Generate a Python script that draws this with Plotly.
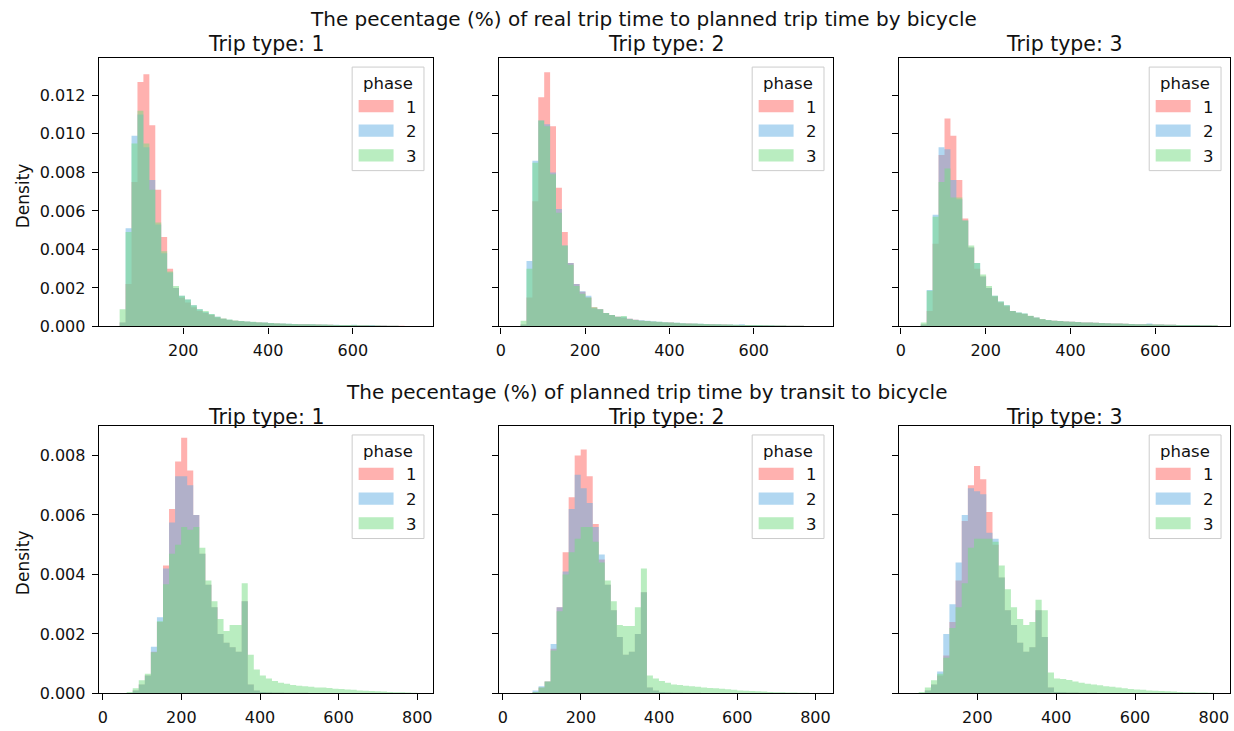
import numpy as np
import plotly.graph_objects as go

W, H = 1234, 731

phases = ["1", "2", "3"]
trip_types = ["1", "2", "3"]
row_titles = [
    "The pecentage (%) of real trip time to planned trip time by bicycle",
    "The pecentage (%) of planned trip time by transit to bicycle",
]

# ---------------- bin edges (50 bins per panel) ----------------
top_edges_1 = np.linspace(50, 750, 51)
top_edges_2 = np.linspace(47, 747, 51)
top_edges_3 = np.linspace(47, 747, 51)
bot_edges_1 = np.linspace(30, 800, 51)
bot_edges_2 = np.linspace(30, 800, 51)
bot_edges_3 = np.linspace(20, 800, 51)

# ---------------- densities: top row (real / planned by bicycle) ----------------
t1_p1 = [0.0002, 0.0022, 0.0075, 0.0127, 0.0131, 0.01045, 0.0071, 0.00465, 0.0030, 0.0020,
         0.0015, 0.00125, 0.0010, 0.0008, 0.0007, 0.0006, 0.00047, 0.0004, 0.00033, 0.0003,
         0.00027, 0.00025, 0.00022, 0.0002, 0.00019, 0.00017, 0.00015, 0.00014, 0.00013, 0.00012,
         0.00012, 0.00011, 0.0001, 0.0001, 0.00009, 0.00009, 0.00008, 0.00008, 0.00007, 0.00007,
         0.00006, 0.00006, 0.00005, 0.00005, 0.00005, 0.00004, 0.00004, 0.00004, 0.00003, 0.00003]
t1_p2 = [0.0002, 0.0051, 0.0099, 0.0110, 0.0093, 0.0076, 0.0053, 0.0038, 0.0028, 0.0020,
         0.0016, 0.0014, 0.0011, 0.0009, 0.00075, 0.00063, 0.0005, 0.0004, 0.00035, 0.0003,
         0.00028, 0.00026, 0.00023, 0.00021, 0.0002, 0.00018, 0.00016, 0.00015, 0.00014, 0.00013,
         0.00012, 0.00011, 0.00011, 0.0001, 0.0001, 0.00009, 0.00009, 0.00008, 0.00007, 0.00009,
         0.00006, 0.00006, 0.00007, 0.00005, 0.00005, 0.00004, 0.00004, 0.00003, 0.00003, 0.00003]
t1_p3 = [0.0009, 0.0049, 0.0095, 0.0112, 0.0095, 0.0071, 0.0054, 0.0039, 0.00285, 0.0021,
         0.0016, 0.0014, 0.0011, 0.0009, 0.0008, 0.00065, 0.0005, 0.00042, 0.00036, 0.00031,
         0.00029, 0.00026, 0.00024, 0.00022, 0.0002, 0.00018, 0.00017, 0.00015, 0.00014, 0.00013,
         0.00012, 0.00012, 0.00011, 0.0001, 0.0001, 0.00009, 0.00008, 0.00008, 0.00007, 0.00007,
         0.00006, 0.00006, 0.00005, 0.00005, 0.00004, 0.00004, 0.00004, 0.00003, 0.00003, 0.00003]

t2_p1 = [0.0001, 0.0015, 0.0065, 0.0119, 0.0132, 0.0104, 0.0072, 0.0049, 0.0033, 0.0022,
         0.0018, 0.0015, 0.0010, 0.0009, 0.0007, 0.0006, 0.0005, 0.00045, 0.0004, 0.00035,
         0.0003, 0.00028, 0.00025, 0.00023, 0.00021, 0.0002, 0.00018, 0.00016, 0.00015, 0.00014,
         0.00013, 0.00012, 0.00011, 0.0001, 0.0001, 0.00009, 0.00008, 0.00008, 0.00007, 0.00007,
         0.00006, 0.00006, 0.00005, 0.00005, 0.00005, 0.00004, 0.00004, 0.00004, 0.00003, 0.00003]
t2_p2 = [0.0001, 0.0034, 0.0086, 0.0107, 0.0105, 0.0080, 0.0061, 0.0042, 0.0033, 0.0022,
         0.00183, 0.0016, 0.00094, 0.0009, 0.0007, 0.0006, 0.0005, 0.0005, 0.0004, 0.00035,
         0.00032, 0.0003, 0.00027, 0.00025, 0.00022, 0.0002, 0.00019, 0.00017, 0.00016, 0.00015,
         0.00014, 0.00013, 0.00012, 0.00011, 0.0001, 0.0001, 0.00009, 0.00012, 0.00008, 0.00007,
         0.00007, 0.00006, 0.00006, 0.00005, 0.00005, 0.00004, 0.00004, 0.00004, 0.00003, 0.00003]
t2_p3 = [0.0003, 0.0030, 0.0085, 0.0107, 0.0104, 0.0079, 0.0059, 0.0042, 0.0032, 0.0021,
         0.0017, 0.0015, 0.0010, 0.0009, 0.0007, 0.0006, 0.0005, 0.00055, 0.00038, 0.00033,
         0.0003, 0.00028, 0.00026, 0.00024, 0.00022, 0.0002, 0.00019, 0.00017, 0.00016, 0.00015,
         0.00014, 0.00013, 0.00012, 0.00011, 0.0001, 0.0001, 0.00009, 0.00008, 0.00008, 0.00007,
         0.00007, 0.00006, 0.00006, 0.00005, 0.00005, 0.00004, 0.00004, 0.00004, 0.00003, 0.00003]

t3_p1 = [0.0001, 0.0008, 0.0043, 0.0089, 0.0108, 0.0099, 0.0076, 0.0056, 0.0041, 0.0030,
         0.0026, 0.0020, 0.00155, 0.00125, 0.00105, 0.0008, 0.0007, 0.00065, 0.00055, 0.00045,
         0.00038, 0.00032, 0.0003, 0.00028, 0.00026, 0.00025, 0.00023, 0.00021, 0.0002, 0.00019,
         0.00018, 0.00017, 0.00016, 0.00015, 0.00014, 0.00013, 0.00012, 0.00012, 0.00011, 0.0001,
         0.0001, 0.00009, 0.00009, 0.00008, 0.00008, 0.00007, 0.00007, 0.00006, 0.00006, 0.00005]
t3_p2 = [0.0001, 0.0019, 0.0058, 0.0093, 0.0092, 0.0076, 0.0066, 0.0055, 0.0041, 0.0033,
         0.0026, 0.0020, 0.0016, 0.0013, 0.0011, 0.0008, 0.00072, 0.00067, 0.00055, 0.00046,
         0.00038, 0.00033, 0.0003, 0.00028, 0.00026, 0.00025, 0.00023, 0.00021, 0.0002, 0.00019,
         0.00018, 0.00017, 0.00016, 0.00015, 0.00014, 0.00013, 0.00012, 0.00012, 0.00015, 0.0001,
         0.0001, 0.00009, 0.00009, 0.00008, 0.00008, 0.00007, 0.00007, 0.00006, 0.00006, 0.00005]
t3_p3 = [0.0002, 0.00185, 0.0057, 0.0075, 0.0082, 0.0067, 0.0067, 0.0055, 0.0042, 0.0033,
         0.0027, 0.0021, 0.0016, 0.0013, 0.0011, 0.0008, 0.00073, 0.00067, 0.00056, 0.00046,
         0.00039, 0.00033, 0.0003, 0.00028, 0.00026, 0.00024, 0.00023, 0.00021, 0.0002, 0.00019,
         0.00018, 0.00017, 0.00016, 0.00015, 0.00014, 0.00013, 0.00012, 0.00011, 0.00011, 0.0001,
         0.0001, 0.00009, 0.00009, 0.00008, 0.00008, 0.00007, 0.00007, 0.00006, 0.00006, 0.00006]

# ---------------- densities: bottom row (planned transit / bicycle) ----------------
b1_p1 = [0, 0, 0, 0.0001, 0.0003, 0.0006, 0.0014, 0.0024, 0.0043, 0.0062,
         0.0078, 0.0086, 0.0075, 0.0060, 0.0047, 0.00365, 0.0029, 0.0020, 0.0017, 0.00155,
         0.0014, 0.0031, 0.0003, 0.0001, 0.00005, 0.00004, 0.00003, 0.00003, 0.00002, 0.00002,
         0.00002, 0.00002, 0.00001, 0.00001, 0.00001, 0.00001, 0.00001, 0.00001, 0, 0,
         0, 0, 0, 0, 0, 0, 0, 0, 0, 0]
b1_p2 = [0, 0, 0, 0.0001, 0.0003, 0.0006, 0.00157, 0.00256, 0.0042, 0.00575,
         0.0073, 0.0073, 0.0070, 0.0060, 0.0047, 0.00365, 0.0029, 0.0020, 0.0017, 0.00155,
         0.0014, 0.0031, 0.0003, 0.0001, 0.00005, 0.00004, 0.00003, 0.00003, 0.00002, 0.00002,
         0.00002, 0.00002, 0.00001, 0.00001, 0.00001, 0.00001, 0.00001, 0.00001, 0, 0,
         0, 0, 0, 0, 0, 0, 0, 0, 0, 0]
b1_p3 = [0, 0, 0.00005, 0.00017, 0.00044, 0.00066, 0.00138, 0.00243, 0.00367, 0.0047,
         0.0050, 0.0056, 0.0055, 0.0056, 0.0049, 0.0038, 0.0031, 0.0025, 0.0021, 0.0023,
         0.0023, 0.0037, 0.0013, 0.0008, 0.0006, 0.0005, 0.00042, 0.00036, 0.00032, 0.00028,
         0.00026, 0.00024, 0.00022, 0.0002, 0.0002, 0.00018, 0.00016, 0.00015, 0.00013, 0.00012,
         0.0001, 0.00009, 0.00008, 0.00007, 0.00006, 0.00005, 0.00004, 0.00004, 0.00003, 0.00002]

b2_p1 = [0, 0, 0, 0.00005, 0.0002, 0.0004, 0.0015, 0.0029, 0.00475, 0.0066,
         0.0080, 0.0082, 0.0073, 0.0057, 0.0045, 0.00365, 0.0028, 0.0019, 0.0013, 0.0014,
         0.0020, 0.0034, 0.0002, 0.0001, 0.00005, 0.00004, 0.00003, 0.00003, 0.00002, 0.00002,
         0.00002, 0.00001, 0.00001, 0.00001, 0.00001, 0.00001, 0, 0, 0, 0,
         0, 0, 0, 0, 0, 0, 0, 0, 0, 0]
b2_p2 = [0, 0, 0, 0.0001, 0.00024, 0.0004, 0.00166, 0.0029, 0.0041, 0.0062,
         0.00735, 0.0069, 0.0064, 0.0056, 0.00467, 0.00365, 0.0028, 0.0019, 0.0013, 0.0014,
         0.0020, 0.0034, 0.0002, 0.0001, 0.00005, 0.00004, 0.00003, 0.00003, 0.00002, 0.00002,
         0.00002, 0.00001, 0.00001, 0.00001, 0.00001, 0.00001, 0, 0, 0, 0,
         0, 0, 0, 0, 0, 0, 0, 0, 0, 0]
b2_p3 = [0, 0, 0, 0.00005, 0.0002, 0.0004, 0.00144, 0.00276, 0.0040, 0.00475,
         0.0052, 0.0056, 0.0056, 0.0051, 0.0044, 0.0038, 0.0031, 0.0023, 0.00227, 0.00227,
         0.0029, 0.0042, 0.0006, 0.0005, 0.00042, 0.00036, 0.0003, 0.00028, 0.00026, 0.00024,
         0.00022, 0.0002, 0.00018, 0.00017, 0.00016, 0.00014, 0.00012, 0.0001, 0.00009, 0.00008,
         0.00007, 0.00006, 0.00005, 0.00004, 0.00004, 0.00003, 0.00003, 0.00002, 0.00002, 0.00001]

b3_p1 = [0, 0, 0, 0.0001, 0.0003, 0.0006, 0.00127, 0.0024, 0.0038, 0.0058,
         0.0070, 0.00765, 0.0072, 0.0061, 0.0050, 0.0039, 0.0028, 0.0023, 0.0017, 0.0014,
         0.00155, 0.0028, 0.0019, 0.0002, 0.00005, 0.00004, 0.00003, 0.00003, 0.00002, 0.00002,
         0.00002, 0.00001, 0.00001, 0.00001, 0.00001, 0.00001, 0, 0, 0, 0,
         0, 0, 0, 0, 0, 0, 0, 0, 0, 0]
b3_p2 = [0, 0, 0, 0.0001, 0.0003, 0.00074, 0.0020, 0.0030, 0.0044, 0.0060,
         0.0069, 0.0068, 0.0067, 0.0054, 0.0052, 0.0039, 0.0028, 0.0023, 0.0017, 0.0014,
         0.00155, 0.0028, 0.0019, 0.0002, 0.00005, 0.00004, 0.00003, 0.00003, 0.00002, 0.00002,
         0.00002, 0.00001, 0.00001, 0.00001, 0.00001, 0.00001, 0, 0, 0, 0,
         0, 0, 0, 0, 0, 0, 0, 0, 0, 0]
b3_p3 = [0, 0, 0.00005, 0.0002, 0.00044, 0.00066, 0.0012, 0.0022, 0.0029, 0.0037,
         0.0049, 0.0052, 0.0052, 0.0052, 0.0051, 0.0043, 0.0035, 0.0029, 0.0025, 0.0023,
         0.0024, 0.00315, 0.0028, 0.0007, 0.0005, 0.00048, 0.00045, 0.0004, 0.00036, 0.00032,
         0.0003, 0.00027, 0.00024, 0.00022, 0.0002, 0.00017, 0.00015, 0.00013, 0.00012, 0.0001,
         0.00009, 0.00008, 0.00007, 0.00006, 0.00005, 0.00004, 0.00004, 0.00003, 0.00003, 0.00002]

# ---------------- assemble panels ----------------
panels = [
    (top_edges_1, [t1_p1, t1_p2, t1_p3]),
    (top_edges_2, [t2_p1, t2_p2, t2_p3]),
    (top_edges_3, [t3_p1, t3_p2, t3_p3]),
    (bot_edges_1, [b1_p1, b1_p2, b1_p3]),
    (bot_edges_2, [b2_p1, b2_p2, b2_p3]),
    (bot_edges_3, [b3_p1, b3_p2, b3_p3]),
]

# ---------------- styling / layout geometry (pixels) ----------------
BASE = {"1": (255, 100, 95), "2": (100, 175, 228), "3": (115, 220, 130)}
ALPHA = 0.5


def rgba(ph, a=ALPHA):
    r, g, b = BASE[ph]
    return f"rgba({r},{g},{b},{a})"


FONT = "DejaVu Sans"
TICK_FS = 16
TITLE_FS = 20.5
SUP_FS = 20
TXT = "#111111"

cols_px = [(96, 431), (497, 832), (898, 1230)]
rows_px = [(59, 331), (432, 703)]
x_ranges = [(0.7, 789), (-4.7, 788), (-4.7, 776), (-10.2, 840), (-10.2, 845), (0.8, 841)]
y_ranges = [(0, 0.01393), (0, 0.00899)]
y_ticks = [[0, 0.002, 0.004, 0.006, 0.008, 0.010, 0.012], [0, 0.002, 0.004, 0.006, 0.008]]
title_y_px = [45, 422.5]
sup_y_px = [19, 397]


def fx(p):
    return p / W


def fy(p):
    return 1 - p / H


fig = go.Figure()
layout = dict(
    width=W, height=H, margin=dict(l=0, r=0, t=0, b=0),
    paper_bgcolor="white", plot_bgcolor="white", showlegend=False,
    font=dict(family=FONT, color=TXT, size=TICK_FS),
)
shapes = []
annotations = []

for i, (edges, series) in enumerate(panels):
    r, c = divmod(i, 3)
    n = i + 1
    xa = "x" if n == 1 else f"x{n}"
    ya = "y" if n == 1 else f"y{n}"
    for ph, vals in zip(phases, series):
        # histogram drawn as a filled step outline (no seams between bins)
        fig.add_trace(go.Scatter(
            x=list(edges), y=list(vals) + [vals[-1]], xaxis=xa, yaxis=ya,
            mode="lines", line=dict(width=0, shape="hv", color=rgba(ph)),
            fill="tozeroy", fillcolor=rgba(ph), name=ph,
            showlegend=False, hoverinfo="skip",
        ))
    x0, x1 = cols_px[c]
    y0, y1 = rows_px[r]
    axis_common = dict(
        showline=True, linecolor="black", linewidth=1.2, mirror=True,
        ticks="outside", ticklen=6, tickwidth=1.2, tickcolor="black",
        showgrid=False, zeroline=False, ticklabelstandoff=3,
        tickfont=dict(family=FONT, size=TICK_FS, color=TXT),
    )
    layout["xaxis" if n == 1 else f"xaxis{n}"] = dict(
        domain=[fx(x0), fx(x1)], range=list(x_ranges[i]), anchor=ya,
        tickmode="array", tickvals=[0, 200, 400, 600, 800], **axis_common,
    )
    layout["yaxis" if n == 1 else f"yaxis{n}"] = dict(
        domain=[fy(y1), fy(y0)], range=list(y_ranges[r]), anchor=xa,
        tickmode="array", tickvals=y_ticks[r],
        ticktext=[f"{v:.3f}" for v in y_ticks[r]],
        showticklabels=(c == 0), **axis_common,
    )
    # subplot title
    annotations.append(dict(
        x=fx((x0 + x1) / 2), y=fy(title_y_px[r]), xref="paper", yref="paper",
        text=f"Trip type: {trip_types[c]}", showarrow=False, xanchor="center", yanchor="middle",
        font=dict(family=FONT, size=TITLE_FS, color=TXT),
    ))
    # legend box
    bx1 = x1 - 9
    bx0 = bx1 - 72
    by0 = y0 + 9
    by1 = by0 + 105
    shapes.append(dict(
        type="rect", xref="paper", yref="paper",
        x0=fx(bx0), x1=fx(bx1), y0=fy(by1), y1=fy(by0),
        line=dict(color="#cccccc", width=1), fillcolor="rgba(255,255,255,0.8)", layer="above",
    ))
    annotations.append(dict(
        x=fx(bx0 + 36), y=fy(by0 + 16.5), xref="paper", yref="paper", text="phase",
        showarrow=False, xanchor="center", yanchor="middle",
        font=dict(family=FONT, size=16.5, color=TXT),
    ))
    for k, ph in enumerate(phases):
        cy = by0 + 39.5 + 25 * k
        shapes.append(dict(
            type="rect", xref="paper", yref="paper",
            x0=fx(bx0 + 6.5), x1=fx(bx0 + 41.5), y0=fy(cy + 6.2), y1=fy(cy - 6.2),
            line=dict(width=0), fillcolor=rgba(ph), layer="above",
        ))
        annotations.append(dict(
            x=fx(bx0 + 59), y=fy(cy + 1), xref="paper", yref="paper", text=ph,
            showarrow=False, xanchor="center", yanchor="middle",
            font=dict(family=FONT, size=16.5, color=TXT),
        ))

# row suptitles
for r, txt in enumerate(row_titles):
    annotations.append(dict(
        x=fx(642 if r == 0 else 645), y=fy(sup_y_px[r]), xref="paper", yref="paper", text=txt,
        showarrow=False, xanchor="center", yanchor="middle",
        font=dict(family=FONT, size=SUP_FS, color=TXT),
    ))

# y-axis labels
for ypx in [198, 570]:
    annotations.append(dict(
        x=fx(20), y=fy(ypx), xref="paper", yref="paper", text="Density",
        showarrow=False, xanchor="center", yanchor="middle", textangle=-90,
        font=dict(family=FONT, size=17, color=TXT),
    ))

layout["shapes"] = shapes
layout["annotations"] = annotations
fig.update_layout(**layout)
fig.write_html("out.html")
